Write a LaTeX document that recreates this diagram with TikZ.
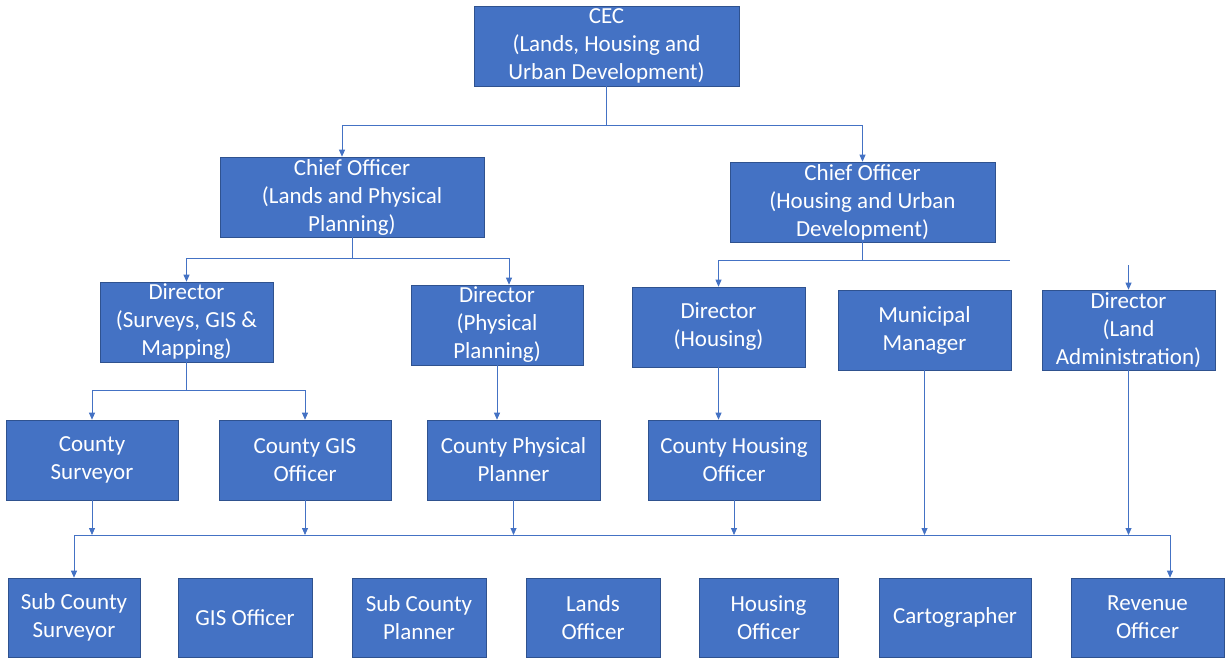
\documentclass[tikz,border=0pt]{standalone}
\usepackage{fontspec}
\setmainfont{Carlito}
\usepackage{xcolor}
\usepackage{tikz}
\usetikzlibrary{arrows.meta}
\definecolor{officeblue}{HTML}{4472C4}
\definecolor{officeedge}{HTML}{2F528F}

\begin{document}
\begin{tikzpicture}[x=1pt,y=-1pt,
    box/.style={draw=officeedge,line width=.6pt,fill=officeblue,text=white,align=center,
        inner sep=0pt,minimum height=80pt,font=\fontsize{23}{28}\selectfont},
    link/.style={draw=officeblue,line width=.8pt},
    arr/.style={link,-{Triangle[length=7pt,width=6pt]}}]
    \useasboundingbox (0,0) rectangle (1225,658);
    \node[box,minimum width=265pt] (cec) at (606.5,46) {CEC\\(Lands, Housing and\\Urban Development)};
    \node[box,minimum width=264pt] (chiefL) at (352,197) {Chief Officer\\(Lands and Physical\\Planning)};
    \node[box,minimum width=265pt] (chiefH) at (862.5,202) {Chief Officer\\(Housing and Urban\\Development)};
    \node[box,minimum width=173pt] (dirS) at (186.5,322) {Director\\(Surveys, GIS \&\\Mapping)};
    \node[box,minimum width=172pt] (dirP) at (497,325) {Director\\(Physical\\Planning)};
    \node[box,minimum width=173pt] (dirH) at (718.5,327) {Director\\(Housing)};
    \node[box,minimum width=173pt] (mm) at (924.5,330) {Municipal\\Manager};
    \node[box,minimum width=173pt] (dirL) at (1128.5,330) {Director\\(Land\\Administration)};
    \node[box,minimum width=172pt] (cSurv) at (92,460) {County\\Surveyor};
    \node[box,minimum width=172pt] (cGIS) at (305,460) {County GIS\\Officer};
    \node[box,minimum width=173pt] (cPP) at (513.5,460) {County Physical\\Planner};
    \node[box,minimum width=172pt] (cHO) at (734,460) {County Housing\\Officer};
    \node[box,minimum width=132pt,minimum height=79pt] (subSurv) at (74,617.5) {Sub County\\Surveyor};
    \node[box,minimum width=134pt,minimum height=79pt] (gisO) at (245,617.5) {GIS Officer};
    \node[box,minimum width=134pt,minimum height=79pt] (subPl) at (419,617.5) {Sub County\\Planner};
    \node[box,minimum width=134pt,minimum height=79pt] (landsO) at (593,617.5) {Lands\\Officer};
    \node[box,minimum width=139pt,minimum height=79pt] (housO) at (768.5,617.5) {Housing\\Officer};
    \node[box,minimum width=152pt,minimum height=79pt] (carto) at (955,617.5) {Cartographer};
    \node[box,minimum width=153pt,minimum height=79pt] (revO) at (1147.5,617.5) {Revenue\\Officer};
    \coordinate (j1) at (606.5,125);
    \coordinate (j2) at (352,258);
    \coordinate (j3) at (862.5,260);
    \coordinate (j3end) at (1010,260);
    \coordinate (dirLin) at (1128.5,265);
    \coordinate (j4) at (186.5,390);
    \coordinate (bus) at (0,535);
    \draw[link] (cec) -- (j1);
    \draw[arr] (j1) -| ([xshift=-10pt]chiefL.north);
    \draw[arr] (j1) -| (chiefH.north);
    \draw[link] (chiefL) -- (j2);
    \draw[arr] (j2) -| (dirS.north);
    \draw[arr] (j2) -| ([xshift=12pt]dirP.north);
    \draw[link] (chiefH) -- (j3);
    \draw[link] (j3) -- (j3end);
    \draw[arr] (j3) -| (dirH.north);
    \draw[arr] (dirLin) -- (dirL.north);
    \draw[link] (dirS) -- (j4);
    \draw[arr] (j4) -| (cSurv.north);
    \draw[arr] (j4) -| (cGIS.north);
    \draw[arr] (dirP) -- (dirP.south |- cPP.north);
    \draw[arr] (dirH) -- (dirH.south |- cHO.north);
    \foreach \n in {cSurv,cGIS,cPP,cHO,mm,dirL}
        \draw[arr] (\n.south) -- (\n.south |- bus);
    \draw[arr] ([xshift=22.5pt]revO.north |- bus) -| (subSurv.north);
    \draw[arr] ([xshift=22.5pt]revO.north |- bus) -- ([xshift=22.5pt]revO.north);
\end{tikzpicture}
\end{document}
